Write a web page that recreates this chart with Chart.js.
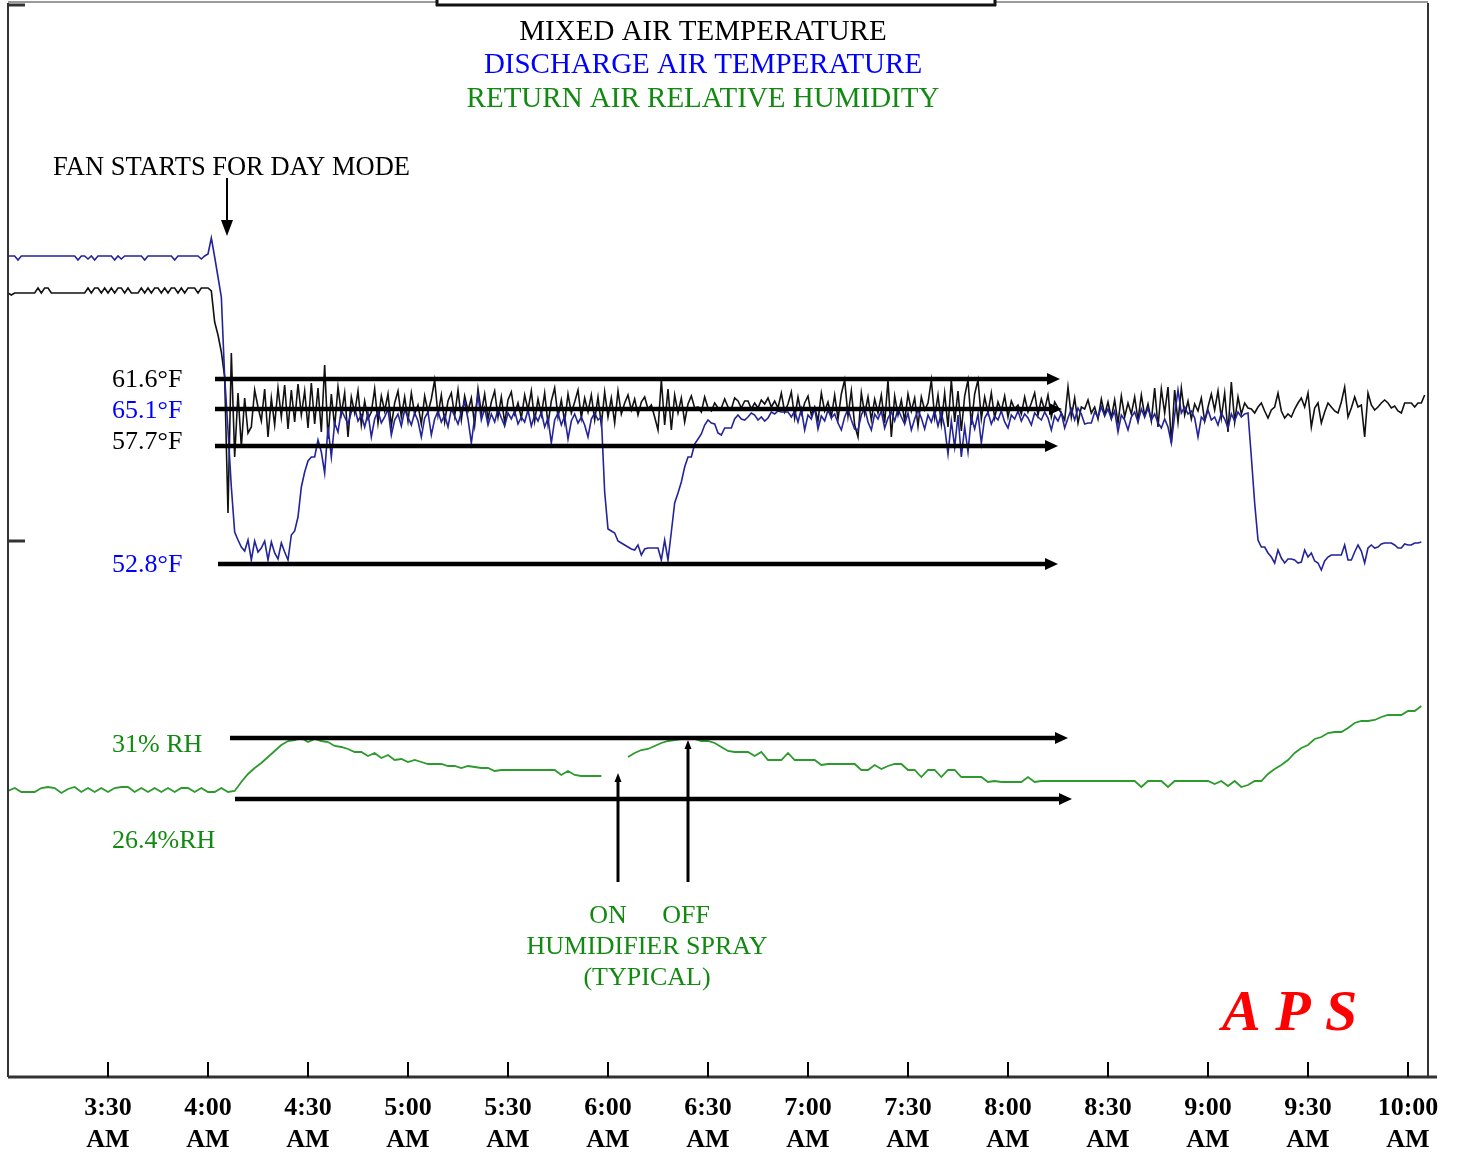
<!DOCTYPE html>
<html>
<head>
<meta charset="utf-8">
<script src="https://cdn.jsdelivr.net/npm/chart.js@4.4.1/dist/chart.umd.min.js"></script>
<style>
	body{margin:0;background:#fff;}
	canvas{display:block;}
</style>
</head>
<body>
<canvas id="trend" width="1457" height="1153"></canvas>
<script>
// x = minutes after 3:00 AM, y = chart units (no printed y scale)
const tempStep = 1;	// one sample per minute
const rhStep = 2;	// one sample every two minutes

const tickMinutes = [30, 60, 90, 120, 150, 180, 210, 240, 270, 300, 330, 360, 390, 420];
const tickLabels = ['3:30', '4:00', '4:30', '5:00', '5:30', '6:00', '6:30', '7:00', '7:30', '8:00', '8:30', '9:00', '9:30', '10:00'];

// discharge air temperature
const dischargeAir = [
	82.1, 82.1, 82.1, 81.7, 82.1, 82.1, 82.1, 82.1, 82.1, 82.1,
	82.1, 82.1, 82.1, 82.1, 82.1, 82.1, 82.1, 82.1, 82.1, 82.1,
	82.1, 81.7, 82.1, 82.1, 81.8, 82.1, 81.7, 82.1, 82.1, 82.1,
	82.1, 82.1, 81.7, 82.1, 81.8, 82.1, 82.1, 82.1, 82.1, 82.1,
	82.1, 81.7, 82.1, 82.1, 82.1, 82.1, 82.1, 82.1, 82.1, 82.1,
	81.7, 82.1, 82.1, 82.1, 82.1, 82.1, 82.1, 82.1, 81.8, 82.1,
	82.3, 83.9, 82.0, 80.0, 78.0, 70.0, 64.7, 59.0, 54.5, 53.7,
	53.0, 52.6, 53.7, 51.7, 53.6, 52.5, 52.9, 53.6, 51.7, 53.5,
	52.4, 51.8, 53.4, 52.5, 51.7, 54.2, 54.6, 56.0, 59.0, 60.5,
	61.6, 62.0, 62.0, 63.7, 62.5, 60.4, 65.0, 62.0, 65.4, 64.5,
	66.7, 66.0, 65.3, 66.5, 66.9, 65.6, 66.2, 65.0, 66.4, 64.0,
	65.8, 66.6, 65.4, 66.0, 66.8, 64.2, 65.7, 66.3, 65.1, 66.7,
	66.0, 65.2, 66.4, 65.6, 64.0, 65.9, 66.5, 64.2, 65.8, 66.6,
	65.5, 66.2, 65.0, 66.8, 66.1, 65.3, 66.5, 67.5, 65.8, 63.4,
	66.0, 68.2, 65.7, 66.9, 65.2, 66.3, 65.5, 66.8, 65.9, 65.1,
	66.4, 65.8, 66.6, 65.3, 66.0, 65.5, 66.7, 65.1, 66.2, 65.6,
	66.5, 65.0, 65.9, 63.4, 65.7, 66.4, 65.2, 66.1, 63.8, 65.6,
	66.3, 65.4, 66.0, 65.2, 64.0, 65.8, 66.4, 65.7, 66.0, 58.5,
	54.8, 54.6, 54.4, 53.6, 53.4, 53.2, 53.0, 52.8, 52.7, 53.2,
	52.2, 52.8, 52.9, 52.9, 52.9, 52.9, 51.7, 53.7, 51.7, 54.5,
	57.4, 58.4, 59.5, 61.0, 62.0, 62.0, 63.3, 63.8, 64.3, 65.2,
	65.7, 65.4, 65.3, 64.4, 64.2, 64.9, 64.9, 64.9, 65.8, 66.2,
	65.8, 65.7, 66.0, 66.4, 66.2, 65.7, 66.0, 65.6, 65.9, 66.5,
	66.3, 66.6, 66.5, 66.5, 66.5, 66.0, 66.6, 65.5, 66.8, 64.7,
	66.2, 65.8, 66.9, 64.8, 66.1, 65.6, 66.7, 65.9, 66.3, 65.4,
	64.7, 66.0, 66.8, 65.7, 64.8, 64.7, 66.2, 66.9, 65.5, 64.7,
	66.3, 65.8, 66.6, 64.9, 65.9, 66.5, 65.6, 66.8, 66.0, 65.3,
	66.4, 64.7, 65.8, 66.7, 65.9, 64.8, 66.2, 65.5, 66.6, 65.1,
	66.4, 65.0, 62.3, 65.6, 63.0, 66.2, 62.0, 65.0, 62.5, 66.0,
	64.8, 66.3, 63.4, 65.9, 66.5, 65.3, 66.1, 65.7, 66.6, 65.5,
	64.9, 66.2, 65.8, 66.6, 65.6, 66.3, 65.9, 65.2, 66.4, 66.0,
	65.7, 66.5, 65.9, 64.7, 66.1, 65.6, 66.4, 64.9, 65.9, 66.8,
	65.7, 66.9, 66.3, 65.3, 65.4, 65.4, 66.5, 66.0, 67.0, 66.1,
	66.8, 65.8, 66.6, 64.5, 66.2, 65.7, 64.7, 66.0, 66.5, 65.5,
	66.8, 66.0, 66.9, 65.7, 66.3, 65.4, 64.9, 65.8, 65.0, 63.4,
	66.2, 68.7, 66.4, 67.0, 66.3, 66.6, 65.9, 64.0, 66.0, 65.6,
	66.7, 65.7, 66.0, 65.2, 66.4, 65.8, 64.9, 66.3, 65.6, 66.5,
	66.0, 66.3, 66.4, 62.0, 57.4, 53.7, 53.0, 53.0, 52.4, 52.0,
	51.4, 52.7, 51.9, 51.4, 51.8, 51.8, 51.7, 51.4, 51.5, 52.7,
	52.0, 52.4, 51.6, 51.4, 50.7, 51.6, 52.0, 52.2, 52.2, 52.2,
	52.2, 53.2, 51.7, 51.7, 52.5, 53.2, 52.6, 51.4, 52.9, 53.2,
	52.9, 53.0, 53.3, 53.4, 53.4, 53.4, 53.2, 52.9, 52.9, 53.3,
	53.2, 53.2, 53.4, 53.4, 53.5
];

// mixed air temperature
const mixedAir = [
	78.4, 78.2, 78.4, 78.4, 78.4, 78.4, 78.4, 78.4, 78.4, 78.9,
	78.4, 78.9, 78.9, 78.4, 78.4, 78.4, 78.4, 78.4, 78.4, 78.4,
	78.4, 78.4, 78.4, 78.4, 78.9, 78.4, 78.9, 78.9, 78.4, 78.9,
	78.4, 78.9, 78.4, 78.9, 78.9, 78.4, 78.9, 78.4, 78.4, 78.4,
	78.9, 78.4, 78.9, 78.4, 78.9, 78.9, 78.4, 78.9, 78.4, 78.9,
	78.9, 78.4, 78.9, 78.4, 78.9, 78.9, 78.9, 78.4, 78.9, 78.9,
	78.9, 78.6, 75.5, 74.2, 72.5, 70.0, 56.4, 72.4, 62.0, 68.4,
	63.0, 67.9, 64.4, 65.0, 68.7, 67.0, 65.6, 68.8, 64.0, 67.9,
	65.2, 68.9, 66.0, 69.2, 64.8, 68.7, 65.5, 69.3, 66.2, 68.6,
	64.9, 69.4, 65.3, 68.9, 64.5, 71.2, 63.8, 68.3, 65.0, 69.0,
	66.3, 68.4, 64.0, 68.0, 66.4, 68.6, 65.2, 67.6, 65.8, 66.5,
	68.8, 65.4, 68.1, 66.6, 68.3, 65.1, 67.4, 68.6, 66.0, 68.0,
	65.6, 68.4, 66.3, 67.2, 65.3, 68.1, 66.5, 67.8, 69.7, 66.2,
	68.2, 65.5, 67.6, 68.4, 66.1, 68.7, 65.7, 68.1, 66.6, 67.9,
	65.2, 68.8, 66.4, 68.3, 65.8, 67.5, 68.6, 66.0, 68.0, 65.4,
	67.7, 68.5, 66.3, 67.4, 65.9, 68.2, 66.7, 68.6, 65.6, 67.8,
	66.2, 68.4, 65.3, 67.6, 68.9, 66.0, 67.7, 65.5, 68.3, 66.4,
	67.5, 68.7, 65.9, 67.9, 66.5, 68.2, 65.7, 68.0, 65.2, 68.5,
	66.0, 67.9, 65.4, 68.6, 66.3, 67.4, 68.2, 66.7, 67.8, 66.2,
	67.5, 68.0, 66.8, 67.2, 66.0, 64.7, 69.7, 65.2, 68.8, 64.7,
	68.2, 66.4, 67.9, 65.5, 67.3, 68.1, 66.9, 67.0, 66.5, 68.0,
	66.9, 66.6, 67.4, 66.9, 66.9, 67.8, 67.0, 66.8, 67.9, 67.6,
	66.9, 67.6, 67.6, 66.8, 67.4, 66.9, 67.7, 67.3, 67.9, 67.0,
	67.6, 66.9, 68.4, 66.5, 67.3, 68.5, 65.9, 68.0, 66.3, 67.4,
	68.1, 66.2, 67.0, 65.6, 68.4, 66.6, 67.5, 66.0, 68.2, 65.8,
	68.3, 69.7, 66.1, 68.6, 65.2, 64.0, 68.4, 66.3, 68.0, 65.7,
	67.8, 66.4, 68.2, 65.4, 69.7, 64.0, 68.1, 66.2, 67.7, 65.6,
	68.3, 66.6, 67.9, 65.1, 68.0, 66.7, 67.4, 69.7, 66.0, 68.2,
	65.3, 68.4, 65.0, 69.7, 65.5, 68.6, 64.6, 68.1, 69.7, 65.2,
	68.3, 69.7, 65.8, 68.0, 66.4, 68.4, 65.9, 67.5, 66.6, 68.1,
	66.0, 67.6, 66.8, 67.2, 66.3, 68.0, 66.5, 67.4, 68.4, 66.2,
	67.8, 66.7, 68.2, 66.0, 67.5, 66.9, 66.4, 65.7, 69.0, 66.0,
	67.9, 65.4, 67.0, 66.8, 67.7, 66.4, 67.0, 65.8, 67.8, 66.2,
	67.5, 65.9, 67.7, 65.4, 68.1, 66.0, 67.4, 66.3, 68.0, 65.7,
	68.2, 66.1, 67.3, 65.6, 68.9, 65.0, 68.8, 66.4, 69.0, 63.4,
	68.7, 65.5, 68.9, 66.2, 67.6, 65.8, 67.3, 66.6, 67.9, 65.6,
	67.0, 68.3, 66.7, 68.6, 65.9, 68.4, 64.5, 69.5, 65.5, 68.0,
	66.3, 67.4, 66.9, 66.8, 66.4, 67.0, 67.4, 66.6, 65.9, 66.7,
	67.0, 68.4, 66.6, 65.9, 66.3, 66.0, 66.8, 67.4, 67.9, 67.0,
	68.4, 65.0, 66.9, 67.4, 65.4, 66.5, 67.4, 67.0, 66.6, 66.4,
	67.5, 69.0, 66.0, 66.9, 68.0, 67.0, 67.2, 64.0, 68.4, 67.2,
	66.7, 67.0, 67.4, 67.7, 67.4, 66.9, 67.1, 66.6, 66.4, 67.4,
	67.4, 67.4, 67.0, 67.4, 67.4, 68.2
];

// return air relative humidity (null = no reading)
const returnRH = [
	28.6, 28.9, 28.5, 28.5, 28.5, 28.9, 29.0, 28.9, 28.4, 28.8,
	29.0, 28.5, 28.9, 28.5, 28.9, 28.5, 28.9, 29.0, 29.0, 28.5,
	28.9, 28.5, 28.9, 28.5, 28.9, 28.5, 28.9, 28.9, 28.5, 28.9,
	28.5, 28.5, 28.9, 28.5, 28.6, 29.5, 30.3, 30.9, 31.4, 32.0,
	32.6, 33.2, 33.6, 33.7, 33.9, 33.5, 33.8, 33.6, 33.5, 33.1,
	33.0, 32.8, 32.5, 32.5, 32.1, 32.4, 31.9, 32.2, 31.7, 31.8,
	31.5, 31.7, 31.5, 31.3, 31.3, 31.3, 31.1, 31.1, 30.9, 31.1,
	31.0, 30.9, 30.9, 30.6, 30.7, 30.7, 30.7, 30.7, 30.7, 30.7,
	30.7, 30.7, 30.7, 30.2, 30.6, 30.2, 30.1, 30.1, 30.1, 30.1,
	null, null, null, 32.0, 32.4, 32.7, 32.8, 33.1, 33.4, 33.6,
	33.7, 33.8, 33.9, 33.8, 33.6, 33.6, 33.4, 33.0, 32.6, 32.5,
	32.5, 32.5, 32.1, 32.5, 31.7, 31.7, 31.7, 32.4, 31.7, 31.7,
	31.7, 31.7, 31.2, 31.3, 31.3, 31.3, 31.3, 31.3, 30.7, 30.7,
	31.2, 30.8, 31.1, 31.3, 31.3, 30.7, 30.7, 30.0, 30.7, 30.7,
	30.0, 30.7, 30.7, 30.0, 30.0, 30.0, 30.0, 29.5, 29.6, 29.5,
	29.5, 29.5, 29.5, 30.0, 29.5, 29.6, 29.6, 29.6, 29.6, 29.6,
	29.6, 29.6, 29.6, 29.6, 29.6, 29.6, 29.6, 29.6, 29.6, 29.6,
	29.0, 29.6, 29.6, 29.6, 29.0, 29.6, 29.6, 29.6, 29.6, 29.6,
	29.6, 29.3, 29.6, 29.1, 29.6, 29.0, 29.2, 29.6, 29.6, 30.3,
	30.8, 31.2, 31.7, 32.4, 32.9, 33.2, 33.8, 34.0, 34.4, 34.5,
	34.5, 34.9, 35.4, 35.6, 35.6, 35.7, 36.0, 36.2, 36.2, 36.2,
	36.6, 36.6, 37.1
];

// setpoint reference arrows (level, start and end minute)
const refLabels = ['61.6°F', '65.1°F', '57.7°F', '52.8°F', '31% RH', '26.4%RH'];
const refLevels = [69.8, 66.8, 63.1, 51.3, 33.9, 27.8];
const refFrom = [62.1, 62.1, 62.1, 63.0, 66.6, 68.1];
const refTo = [315.6, 316.2, 315.0, 315.0, 318.0, 319.2];

// fan start and humidifier spray marks
const fanStart = 65.7;
const sprayOn = 183;
const sprayOff = 204;

function toPoints(values, step){
	return values.map(function(v, i){
		return {x: i * step, y: v};
	});
}

const SERIF = "'Liberation Serif', 'Times New Roman', serif";
const BLUE_TXT = '#0000ff';
const GREEN_TXT = '#128a12';
const refColors = ['#000', BLUE_TXT, '#000', BLUE_TXT, GREEN_TXT, GREEN_TXT];
const refTextDy = [1, 2, -4, 1, 7, 42];

function hLine(ctx, x0, x1, y){
	ctx.beginPath(); ctx.moveTo(x0, y); ctx.lineTo(x1, y); ctx.stroke();
}
function vLine(ctx, x, y0, y1){
	ctx.beginPath(); ctx.moveTo(x, y0); ctx.lineTo(x, y1); ctx.stroke();
}
function tri(ctx, a, b, c){
	ctx.beginPath(); ctx.moveTo(a[0], a[1]); ctx.lineTo(b[0], b[1]); ctx.lineTo(c[0], c[1]); ctx.closePath(); ctx.fill();
}

//테두리, 화살표, 글자
const decorations = {
	id: 'decorations',
	afterDatasetsDraw: function(chart){
		const ctx = chart.ctx, a = chart.chartArea;
		const xs = chart.scales.x, ys = chart.scales.y;
		ctx.save();

		// frame
		ctx.lineCap = 'butt';
		ctx.strokeStyle = '#9a9a9a'; ctx.lineWidth = 2;
		hLine(ctx, a.left, 437, a.top - 1);
		hLine(ctx, 995, a.right, a.top - 1);
		ctx.strokeStyle = '#111'; ctx.lineWidth = 3;
		hLine(ctx, 436, 996, 5);
		vLine(ctx, 437, 0, 6);
		vLine(ctx, 995, 0, 6);
		ctx.strokeStyle = '#333'; ctx.lineWidth = 2;
		vLine(ctx, a.left, a.top, a.bottom);
		vLine(ctx, a.right, a.top, a.bottom);
		ctx.lineWidth = 3;
		hLine(ctx, a.left, a.right + 9, a.bottom);
		hLine(ctx, a.left, a.left + 17, a.top + 2);
		hLine(ctx, a.left, a.left + 17, 541);
		ctx.strokeStyle = '#000'; ctx.lineWidth = 2;
		tickMinutes.forEach(function(t){
			const px = Math.round(xs.getPixelForValue(t));
			vLine(ctx, px, a.bottom - 15, a.bottom);
		});

		// reference arrows
		ctx.fillStyle = '#000'; ctx.strokeStyle = '#000'; ctx.lineWidth = 4.5;
		refLevels.forEach(function(lv, i){
			const x0 = xs.getPixelForValue(refFrom[i]);
			const x1 = xs.getPixelForValue(refTo[i]);
			const py = ys.getPixelForValue(lv);
			hLine(ctx, x0, x1 - 10, py);
			tri(ctx, [x1 - 13, py - 6], [x1, py], [x1 - 13, py + 6]);
		});

		// fan start arrow
		const fx = xs.getPixelForValue(fanStart);
		ctx.lineWidth = 2;
		vLine(ctx, fx, 178, 222);
		tri(ctx, [fx - 6, 220], [fx, 236], [fx + 6, 220]);

		// humidifier arrows
		ctx.lineWidth = 3;
		[[sprayOn, 30.4], [sprayOff, 33.7]].forEach(function(s){
			const sx = xs.getPixelForValue(s[0]);
			const tip = ys.getPixelForValue(s[1]);
			vLine(ctx, sx, ys.getPixelForValue(19.5), tip + 6);
			tri(ctx, [sx - 3.5, tip + 9], [sx, tip], [sx + 3.5, tip + 9]);
		});

		// texts
		ctx.textBaseline = 'middle';
		ctx.textAlign = 'center';
		ctx.font = '29px ' + SERIF;
		ctx.fillStyle = '#000'; ctx.fillText('MIXED AIR TEMPERATURE', 703, 32);
		ctx.fillStyle = BLUE_TXT; ctx.fillText('DISCHARGE AIR TEMPERATURE', 703, 65);
		ctx.fillStyle = GREEN_TXT; ctx.fillText('RETURN AIR RELATIVE HUMIDITY', 703, 99);

		ctx.textAlign = 'left';
		ctx.font = '26.5px ' + SERIF;
		ctx.fillStyle = '#000';
		ctx.fillText('FAN STARTS FOR DAY MODE', 53, 168);

		ctx.font = '26px ' + SERIF;
		refLabels.forEach(function(lb, i){
			ctx.fillStyle = refColors[i];
			ctx.fillText(lb, 112, ys.getPixelForValue(refLevels[i]) + refTextDy[i]);
		});

		ctx.textAlign = 'center';
		ctx.fillStyle = GREEN_TXT;
		ctx.fillText('ON', 608, 916);
		ctx.fillText('OFF', 686, 916);
		ctx.fillText('HUMIDIFIER SPRAY', 647, 947);
		ctx.fillText('(TYPICAL)', 647, 978);

		ctx.textAlign = 'left';
		ctx.font = 'italic bold 58px ' + SERIF;
		ctx.fillStyle = '#ff0000';
		ctx.fillText('A P S', 1222, 1015);

		ctx.restore();
	}
};

Chart.defaults.font.family = SERIF;

var trendChart = new Chart(document.getElementById('trend'), {
	type: 'line',
	data: {
		datasets: [{
			label: 'DISCHARGE AIR TEMPERATURE',
			data: toPoints(dischargeAir, tempStep),
			borderColor: '#23239a',
			borderWidth: 1.6,
			pointRadius: 0,
			order: 0
		}, {
			label: 'MIXED AIR TEMPERATURE',
			data: toPoints(mixedAir, tempStep),
			borderColor: '#111111',
			borderWidth: 1.6,
			pointRadius: 0,
			order: 1
		}, {
			label: 'RETURN AIR RELATIVE HUMIDITY',
			data: toPoints(returnRH, rhStep),
			borderColor: '#2c9a2c',
			borderWidth: 1.8,
			pointRadius: 0,
			spanGaps: false,
			order: 2
		}]
	},
	options: {
		responsive: false,
		animation: false,
		layout: {padding: {left: 8, right: 29, top: 3, bottom: 0}},
		plugins: {legend: {display: false}, tooltip: {enabled: false}},
		scales: {
			x: {
				type: 'linear',
				min: 0,
				max: 426,
				grid: {display: false},
				border: {display: false},
				afterBuildTicks: function(s){
					s.ticks = tickMinutes.map(function(v){ return {value: v}; });
				},
				afterFit: function(s){ s.height = 76; },
				ticks: {
					autoSkip: false,
					maxRotation: 0,
					padding: 8,
					color: '#000',
					font: {family: SERIF, size: 26, weight: 'bold', lineHeight: 1.2},
					callback: function(v, i){ return [tickLabels[i], 'AM']; }
				}
			},
			y: {display: false, min: 0, max: 107.4}
		}
	},
	plugins: [decorations]
});
</script>
</body>
</html>
